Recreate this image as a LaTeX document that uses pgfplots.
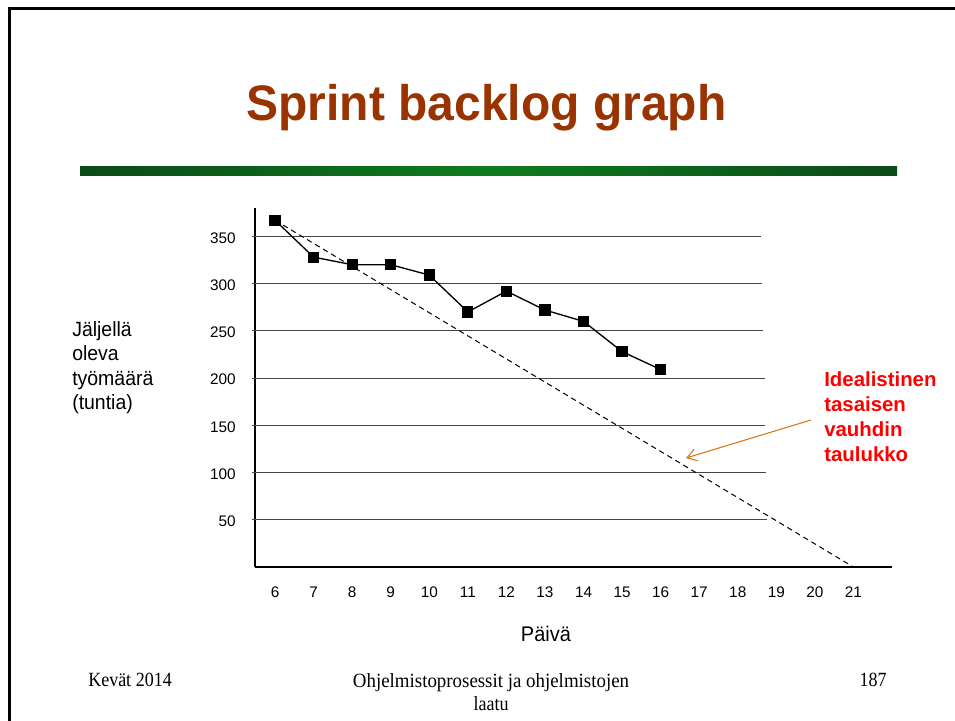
\documentclass[border=0pt]{standalone}
\usepackage{pgfplots}
\pgfplotsset{compat=1.18}
\usepackage{fontspec}
\setmainfont{Liberation Sans}
\newfontfamily\seriffont{Liberation Serif}
\usetikzlibrary{arrows.meta}
\definecolor{titlecol}{RGB}{153,51,0}
\definecolor{gdark}{RGB}{11,74,24}
\definecolor{glight}{RGB}{14,124,30}
\definecolor{arrowcol}{RGB}{214,120,24}
\definecolor{gridcol}{RGB}{70,70,70}
\begin{document}
\begin{tikzpicture}
\begin{scope}[x=0.75pt,y=-0.75pt]
\useasboundingbox (0,0) rectangle (955,720);
\fill[white] (0,0) rectangle (955,720);
% slide frame
\draw[black, line width=1.6pt] (9.5,722) -- (9.5,8.5) -- (957,8.5);
% title
\node[anchor=base, text=titlecol, inner sep=0pt, yscale=1.04, font=\fontsize{36}{40}\selectfont\bfseries] at (486.5,121) {Sprint backlog graph};
% green bar
\shade[left color=gdark, right color=gdark, middle color=glight] (80,167) rectangle (897,176);
% y label
\node[anchor=base west, inner sep=0pt, yscale=1.06, font=\fontsize{14.6}{18}\selectfont] at (72,336.7) {Jäljellä};
\node[anchor=base west, inner sep=0pt, yscale=1.06, font=\fontsize{14.6}{18}\selectfont] at (72,360.7) {oleva};
\node[anchor=base west, inner sep=0pt, yscale=1.06, font=\fontsize{14.6}{18}\selectfont] at (72,385) {työmäärä};
\node[anchor=base west, inner sep=0pt, yscale=1.06, font=\fontsize{14.6}{18}\selectfont] at (72,409) {(tuntia)};
% x label
\node[anchor=base, inner sep=0pt, yscale=1.06, font=\fontsize{15}{18}\selectfont] at (546,641) {Päivä};
% red annotation
\node[anchor=base west, inner sep=0pt, text=red, font=\fontsize{15.3}{19}\selectfont\bfseries] at (824,386) {Idealistinen};
\node[anchor=base west, inner sep=0pt, text=red, font=\fontsize{15.3}{19}\selectfont\bfseries] at (824,411.7) {tasaisen};
\node[anchor=base west, inner sep=0pt, text=red, font=\fontsize{15.3}{19}\selectfont\bfseries] at (824,436.7) {vauhdin};
\node[anchor=base west, inner sep=0pt, text=red, font=\fontsize{15.3}{19}\selectfont\bfseries] at (824,461.7) {taulukko};
\draw[arrowcol, line width=0.8pt, -{Straight Barb[length=7pt,width=9pt]}] (811,420) -- (686,458);
% footer
\node[anchor=base west, inner sep=0pt, yscale=1.12, font=\seriffont\fontsize{13.5}{16}\selectfont] at (88,686) {Kevät 2014};
\node[anchor=base, inner sep=0pt, yscale=1.12, xscale=1.05, font=\seriffont\fontsize{13.5}{16}\selectfont] at (491,687) {Ohjelmistoprosessit ja ohjelmistojen};
\node[anchor=base, inner sep=0pt, yscale=1.12, font=\seriffont\fontsize{13.5}{16}\selectfont] at (491,710) {laatu};
\node[anchor=base east, inner sep=0pt, yscale=1.12, font=\seriffont\fontsize{13.5}{16}\selectfont] at (887,686) {187};
\end{scope}
\begin{axis}[
  at={(191.25pt,-425.25pt)}, anchor=south west,
  scale only axis, width=477.75pt, height=269.25pt,
  xmin=5.48, xmax=22, ymin=0, ymax=380,
  axis lines*=left,
  axis line style={line width=1.3pt, black},
  xtick={6,7,...,21}, ytick={50,100,...,350},
  major tick length=0pt,
  tick style={draw=none},
  /pgf/number format/assume math mode=true,
  ticklabel style={font=\fontsize{11.5}{13}\selectfont},
  yticklabel style={xshift=-11pt, yshift=-2.5pt},
  xticklabel style={yshift=-10.5pt},
  typeset ticklabels with strut,
  clip=false,
]
\draw[gridcol, line width=0.75pt] (axis cs:5.4,50) -- (axis cs:18.75,50);
\draw[gridcol, line width=0.75pt] (axis cs:5.4,100) -- (axis cs:18.72,100);
\draw[gridcol, line width=0.75pt] (axis cs:5.4,150) -- (axis cs:18.7,150);
\draw[gridcol, line width=0.75pt] (axis cs:5.4,200) -- (axis cs:18.7,200);
\draw[gridcol, line width=0.75pt] (axis cs:5.4,250) -- (axis cs:18.65,250);
\draw[gridcol, line width=0.75pt] (axis cs:5.4,300) -- (axis cs:18.62,300);
\draw[gridcol, line width=0.75pt] (axis cs:5.4,350) -- (axis cs:18.6,350);
\addplot[black, line width=0.75pt, dash pattern=on 4pt off 3pt] coordinates {(6,367) (21,0)};
\addplot[black, line width=1pt, mark=square*, mark size=3.7pt, mark options={solid}] coordinates {
(6,367) (7,328) (8,320) (9,320) (10,309) (11,270) (12,292) (13,272) (14,260) (15,228) (16,209)};
\end{axis}
\end{tikzpicture}
\end{document}
